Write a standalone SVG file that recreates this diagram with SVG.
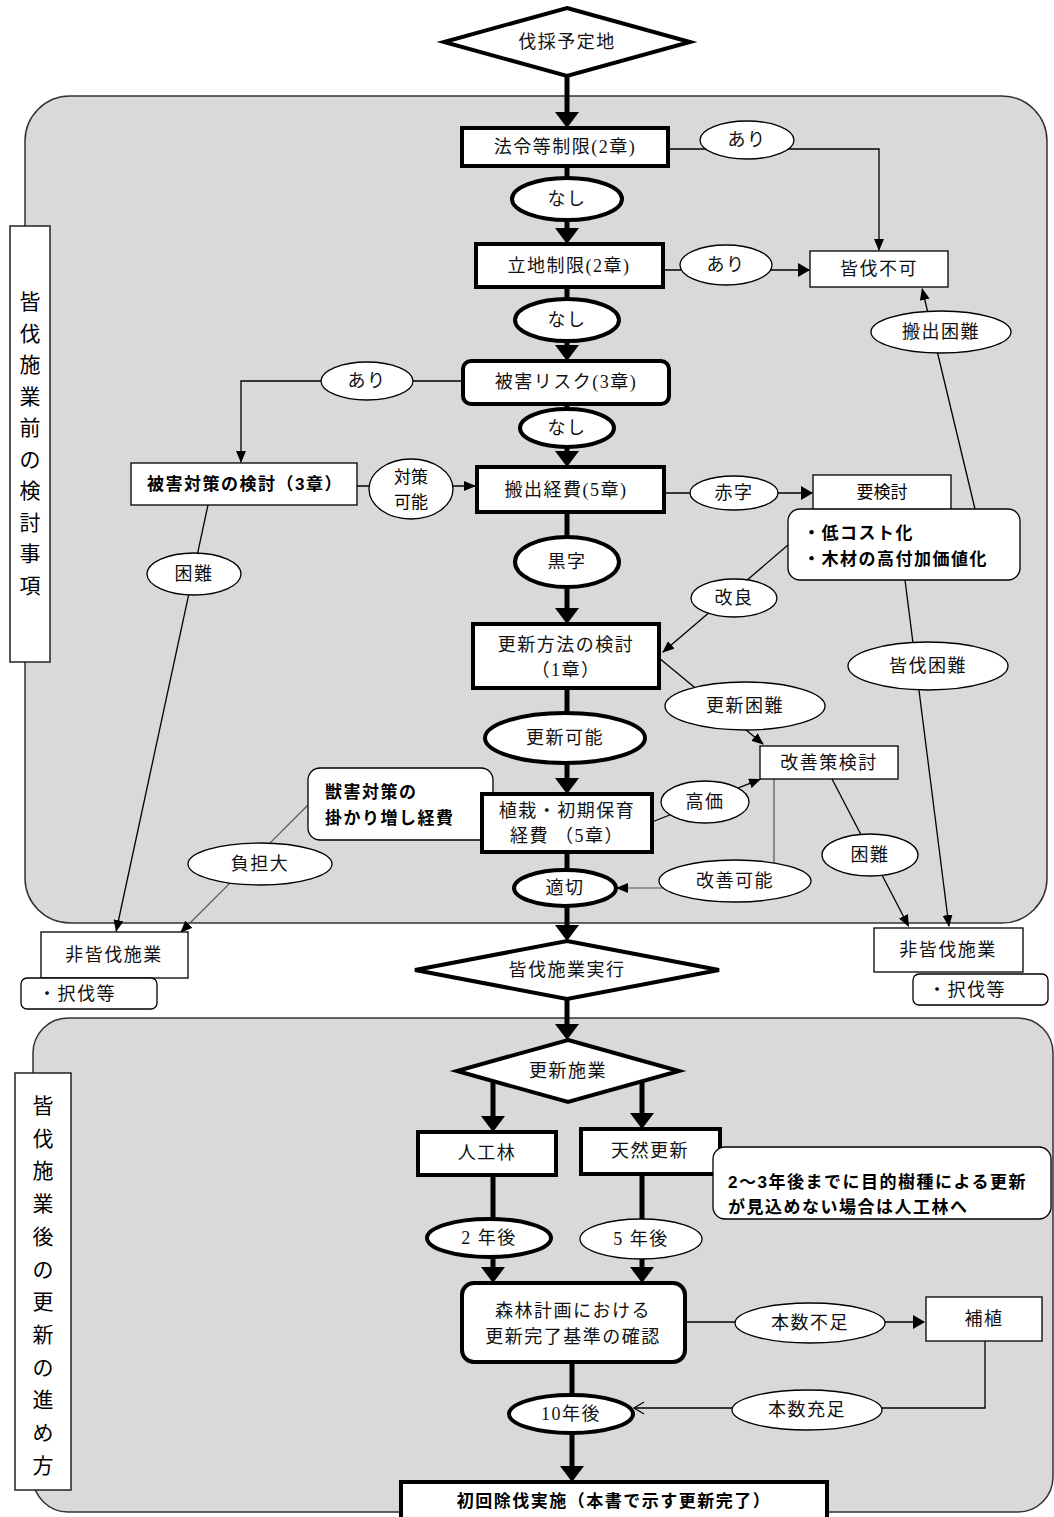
<svg xmlns="http://www.w3.org/2000/svg" width="1054" height="1517" viewBox="0 0 1054 1517">
<style>
.region{fill:#d9d9d9;stroke:#333;stroke-width:1.5}
.lbl{fill:#fff;stroke:#222;stroke-width:1.5}
.bk{fill:#fff;stroke:#000;stroke-width:4}
.bn{fill:#fff;stroke:#000;stroke-width:1.3}
.tk{fill:none;stroke:#000;stroke-width:5}
.tn{fill:none;stroke:#000;stroke-width:1.3}
.tg{fill:none;stroke:#555;stroke-width:1.2}
text{dominant-baseline:central}
.m{font-family:"Liberation Serif","Noto Sans CJK JP",serif;font-size:18px;letter-spacing:1.5px;text-anchor:middle;fill:#111}
.s{font-family:"Liberation Sans","Noto Sans CJK JP",sans-serif;font-size:17px;fill:#000}
.c{text-anchor:middle}
.b{font-weight:bold;letter-spacing:1.5px}
.v{font-family:"Liberation Sans","Noto Sans CJK JP",sans-serif;font-size:21px;text-anchor:middle;fill:#000}
</style>
<defs>
<marker id="ak" markerUnits="userSpaceOnUse" markerWidth="16" markerHeight="24" viewBox="0 0 16 24" refX="12" refY="12" orient="auto"><path d="M0,0 L16,12 L0,24 z" fill="#000"/></marker>
<marker id="an" markerUnits="userSpaceOnUse" markerWidth="12" markerHeight="10" viewBox="0 0 12 10" refX="11" refY="5" orient="auto"><path d="M0,0 L12,5 L0,10 z" fill="#000"/></marker>
<marker id="am" markerUnits="userSpaceOnUse" markerWidth="12" markerHeight="14" viewBox="0 0 12 14" refX="11" refY="7" orient="auto"><path d="M0,0 L12,7 L0,14 z" fill="#000"/></marker>
<marker id="ao" markerUnits="userSpaceOnUse" markerWidth="12" markerHeight="14" viewBox="-1 -1 12 14" refX="10" refY="6" orient="auto" style="overflow:visible"><path d="M0,0 L10,6 L0,12" fill="none" stroke="#000" stroke-width="1.2"/></marker>
</defs>

<g id="regions">
<rect class="region" x="25" y="96" width="1022" height="827" rx="45" ry="45"/>
<rect class="region" x="33" y="1018" width="1020" height="494" rx="35" ry="35"/>
</g>

<g id="section-labels">
<g id="label-before">
<rect class="lbl" x="10" y="226" width="40" height="436"/>
<text class="v"><tspan x="30" y="301">皆</tspan><tspan x="30" y="332.5">伐</tspan><tspan x="30" y="364">施</tspan><tspan x="30" y="395.5">業</tspan><tspan x="30" y="427">前</tspan><tspan x="30" y="458.5">の</tspan><tspan x="30" y="490">検</tspan><tspan x="30" y="521.5">討</tspan><tspan x="30" y="553">事</tspan><tspan x="30" y="584.5">項</tspan></text>
</g>
<g id="label-after">
<rect class="lbl" x="15" y="1073" width="56" height="417"/>
<text class="v"><tspan x="43" y="1105">皆</tspan><tspan x="43" y="1137.7">伐</tspan><tspan x="43" y="1170.4">施</tspan><tspan x="43" y="1203.1">業</tspan><tspan x="43" y="1235.8">後</tspan><tspan x="43" y="1268.5">の</tspan><tspan x="43" y="1301.2">更</tspan><tspan x="43" y="1333.9">新</tspan><tspan x="43" y="1366.6">の</tspan><tspan x="43" y="1399.3">進</tspan><tspan x="43" y="1432">め</tspan><tspan x="43" y="1464.7">方</tspan></text>
</g>
</g>

<g id="connectors">
<path class="tk" d="M567,76 V124" marker-end="url(#ak)"/>
<path class="tk" d="M567,166 V240" marker-end="url(#ak)"/>
<path class="tk" d="M567,287 V357" marker-end="url(#ak)"/>
<path class="tk" d="M567,404 V463" marker-end="url(#ak)"/>
<path class="tk" d="M567,512 V620" marker-end="url(#ak)"/>
<path class="tk" d="M567,688 V790" marker-end="url(#ak)"/>
<path class="tk" d="M567,852 V937" marker-end="url(#ak)"/>
<path class="tk" d="M567,998 V1036" marker-end="url(#ak)"/>
<path class="tk" d="M493,1078 V1128" marker-end="url(#ak)"/>
<path class="tk" d="M642,1078 V1125" marker-end="url(#ak)"/>
<path class="tk" d="M493,1175 V1279" marker-end="url(#ak)"/>
<path class="tk" d="M642,1174 V1279" marker-end="url(#ak)"/>
<path class="tk" d="M572,1362 V1478" marker-end="url(#ak)"/>
<path class="tn" d="M668,149 H879 V250" marker-end="url(#an)"/>
<path class="tn" d="M663,270 H809" marker-end="url(#am)"/>
<path class="tn" d="M463,381 H241 V462" marker-end="url(#an)"/>
<path class="tn" d="M357,486 H475" marker-end="url(#an)"/>
<path class="tn" d="M664,493 H812" marker-end="url(#am)"/>
<path class="tn" d="M975,509 L922.2,289" marker-end="url(#an)"/>
<path class="tn" d="M788,545 L663,652" marker-end="url(#an)"/>
<path class="tn" d="M905,580 L948.9,926" marker-end="url(#an)"/>
<path class="tn" d="M208,505 L116.2,931" marker-end="url(#an)"/>
<path class="tg" d="M308,805 L181,932" marker-end="url(#an)"/>
<path class="tn" d="M659,658 L763,744" marker-end="url(#an)"/>
<path class="tn" d="M652,822 L760,779.4" marker-end="url(#an)"/>
<path class="tg" d="M774,779 V888 H617" marker-end="url(#an)"/>
<path class="tn" d="M832,779 L908.5,926" marker-end="url(#an)"/>
<path class="tn" d="M685,1322 H924" marker-end="url(#am)"/>
<path class="tn" d="M985,1341 V1408 H634" marker-end="url(#ao)"/>
</g>

<g id="nodes">
<g id="n-start"><polygon class="bk" points="567,8 690,42 567,76 444,42"/><text class="m" x="567" y="42">伐採予定地</text></g>
<g id="n-hourei"><rect class="bk" x="462" y="128" width="206" height="38"/><text class="m" x="565" y="147">法令等制限(2章)</text></g>
<g id="e-ari1"><ellipse class="bn" cx="747" cy="140" rx="47" ry="19"/><text class="m" x="747" y="140">あり</text></g>
<g id="e-nashi1"><ellipse class="bk" cx="567" cy="199" rx="55" ry="21"/><text class="m" x="567" y="199">なし</text></g>
<g id="n-fuka"><rect class="bn" x="810" y="251" width="138" height="36"/><text class="m" x="879" y="269">皆伐不可</text></g>
<g id="n-ritchi"><rect class="bk" x="476" y="244" width="187" height="43"/><text class="m" x="569" y="266">立地制限(2章)</text></g>
<g id="e-ari2"><ellipse class="bn" cx="726" cy="265" rx="46" ry="20"/><text class="m" x="726" y="265">あり</text></g>
<g id="e-nashi2"><ellipse class="bk" cx="567" cy="320" rx="52" ry="21"/><text class="m" x="567" y="320">なし</text></g>
<g id="e-hanshutsu"><ellipse class="bn" cx="941" cy="332" rx="70" ry="21"/><text class="m" x="941" y="332">搬出困難</text></g>
<g id="n-higai"><rect class="bk" x="463" y="361" width="206" height="43" rx="8"/><text class="m" x="566" y="382">被害リスク(3章)</text></g>
<g id="e-ari3"><ellipse class="bn" cx="367" cy="381" rx="46" ry="19"/><text class="m" x="367" y="381">あり</text></g>
<g id="e-nashi3"><ellipse class="bk" cx="567" cy="428" rx="47" ry="19"/><text class="m" x="567" y="428">なし</text></g>
<g id="n-taisaku"><rect class="bn" x="131" y="463" width="226" height="42"/><text class="s b c" x="245" y="484">被害対策の検討（3章）</text></g>
<g id="e-taisaku"><ellipse class="bn" cx="411" cy="489" rx="42" ry="30"/><text class="s c" x="411" y="477">対策</text><text class="s c" x="411" y="502">可能</text></g>
<g id="n-keihi"><rect class="bk" x="477" y="467" width="187" height="45"/><text class="m" x="566" y="490">搬出経費(5章)</text></g>
<g id="e-akaji"><ellipse class="bn" cx="734" cy="493" rx="44" ry="17"/><text class="m" x="734" y="493">赤字</text></g>
<g id="n-youkentou"><rect class="bn" x="813" y="475" width="138" height="37"/><text class="s c" x="882" y="492">要検討</text></g>
<g id="n-lowcost"><rect class="bn" x="788" y="509" width="232" height="71" rx="12"/><text class="s b" x="803" y="533">・低コスト化</text><text class="s b" x="803" y="559">・木材の高付加価値化</text></g>
<g id="e-kuroji"><ellipse class="bk" cx="567" cy="562" rx="52" ry="25"/><text class="m" x="567" y="562">黒字</text></g>
<g id="e-konnan1"><ellipse class="bn" cx="194" cy="574" rx="47" ry="21"/><text class="m" x="194" y="574">困難</text></g>
<g id="e-kairyou"><ellipse class="bn" cx="734" cy="598" rx="43" ry="19"/><text class="m" x="734" y="598">改良</text></g>
<g id="n-koushin"><rect class="bk" x="473" y="624" width="186" height="64"/><text class="m" x="566" y="645">更新方法の検討</text><text class="m" x="566" y="670">（1章）</text></g>
<g id="e-kaibatsukonnan"><ellipse class="bn" cx="928" cy="666" rx="80" ry="24"/><text class="m" x="928" y="666">皆伐困難</text></g>
<g id="e-koushinkonnan"><ellipse class="bn" cx="745" cy="706" rx="80" ry="24"/><text class="m" x="745" y="706">更新困難</text></g>
<g id="e-kanou"><ellipse class="bk" cx="565" cy="738" rx="80" ry="25"/><text class="m" x="565" y="738">更新可能</text></g>
<g id="n-kaizen"><rect class="bn" x="760" y="746" width="138" height="33"/><text class="m" x="829" y="763">改善策検討</text></g>
<g id="n-juugai"><rect class="bn" x="308" y="768" width="185" height="72" rx="12"/><text class="s b" x="325" y="792">獣害対策の</text><text class="s b" x="325" y="818">掛かり増し経費</text></g>
<g id="n-shokusai"><rect class="bk" x="482" y="794" width="170" height="58"/><text class="m" x="567" y="811">植栽・初期保育</text><text class="m" x="567" y="836">経費 （5章）</text></g>
<g id="e-kouka"><ellipse class="bn" cx="705" cy="802" rx="44" ry="21"/><text class="m" x="705" y="802">高価</text></g>
<g id="e-konnan2"><ellipse class="bn" cx="870" cy="855" rx="48" ry="21"/><text class="m" x="870" y="855">困難</text></g>
<g id="e-futan"><ellipse class="bn" cx="260" cy="864" rx="72" ry="21"/><text class="m" x="260" y="864">負担大</text></g>
<g id="e-kaizenkanou"><ellipse class="bn" cx="735" cy="881" rx="76" ry="21"/><text class="m" x="735" y="881">改善可能</text></g>
<g id="e-tekisetsu"><ellipse class="bk" cx="565" cy="888" rx="51" ry="18"/><text class="m" x="565" y="888">適切</text></g>
<g id="n-hikaibatsu1"><rect class="bn" x="41" y="932" width="147" height="46"/><text class="m" x="114" y="955">非皆伐施業</text></g>
<g id="n-takubatsu1"><rect class="bn" x="21" y="978" width="136" height="31" rx="6"/><text class="m" x="38" y="994" style="text-anchor:start">・択伐等</text></g>
<g id="n-hikaibatsu2"><rect class="bn" x="874" y="928" width="149" height="44"/><text class="m" x="948" y="950">非皆伐施業</text></g>
<g id="n-takubatsu2"><rect class="bn" x="913" y="974" width="135" height="31" rx="6"/><text class="m" x="928" y="990" style="text-anchor:start">・択伐等</text></g>
<g id="n-jikkou"><polygon class="bk" points="567,941 719,970 567,999 415,970"/><text class="m" x="567" y="970">皆伐施業実行</text></g>
<g id="n-koushinsekou"><polygon class="bk" points="568,1040 679,1071 568,1102 457,1071"/><text class="m" x="568" y="1071">更新施業</text></g>
<g id="n-jinkou"><rect class="bk" x="418" y="1132" width="138" height="43"/><text class="m" x="487" y="1153">人工林</text></g>
<g id="n-tennen"><rect class="bk" x="581" y="1129" width="139" height="45"/><text class="m" x="650" y="1151">天然更新</text></g>
<g id="n-note"><rect class="bn" x="713" y="1147" width="338" height="72" rx="12"/><text class="s b" x="728" y="1182">2～3年後までに目的樹種による更新</text><text class="s b" x="728" y="1207">が見込めない場合は人工林へ</text></g>
<g id="e-2nen"><ellipse class="bk" cx="489" cy="1238" rx="62" ry="19"/><text class="m" x="489" y="1238">2 年後</text></g>
<g id="e-5nen"><ellipse class="bn" cx="641" cy="1239" rx="61" ry="20"/><text class="m" x="641" y="1239">5 年後</text></g>
<g id="n-shinrin"><rect class="bk" x="462" y="1283" width="223" height="79" rx="12"/><text class="m" x="573" y="1311">森林計画における</text><text class="m" x="573" y="1337">更新完了基準の確認</text></g>
<g id="e-fusoku"><ellipse class="bn" cx="810" cy="1323" rx="75" ry="20"/><text class="m" x="810" y="1323">本数不足</text></g>
<g id="n-hoshoku"><rect class="bn" x="926" y="1297" width="116" height="44"/><text class="m" x="984" y="1319">補植</text></g>
<g id="e-juusoku"><ellipse class="bn" cx="807" cy="1410" rx="75" ry="20"/><text class="m" x="807" y="1410">本数充足</text></g>
<g id="e-10nen"><ellipse class="bk" cx="571" cy="1414" rx="62" ry="19"/><text class="m" x="571" y="1414">10年後</text></g>
<g id="n-shokai"><rect class="bk" x="401" y="1482" width="426" height="50"/><text class="s b c" x="614" y="1501">初回除伐実施（本書で示す更新完了）</text></g>
</g>
</svg>
